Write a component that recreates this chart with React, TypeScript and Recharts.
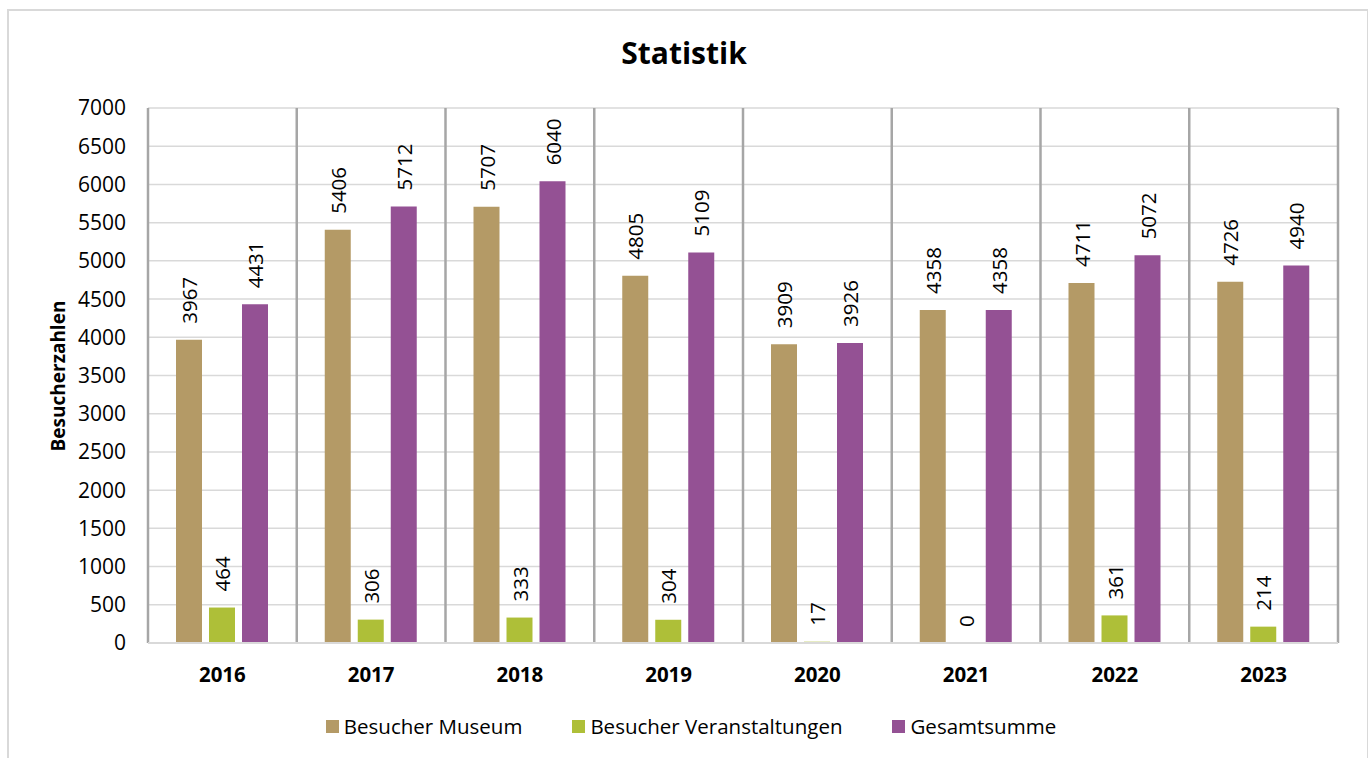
import React from "react";
import {
  BarChart,
  Bar,
  XAxis,
  YAxis,
  CartesianGrid,
  LabelList,
} from "recharts";

const years = ["2016", "2017", "2018", "2019", "2020", "2021", "2022", "2023"];
const museum = [3967, 5406, 5707, 4805, 3909, 4358, 4711, 4726];
const events = [464, 306, 333, 304, 17, 0, 361, 214];
const total = [4431, 5712, 6040, 5109, 3926, 4358, 5072, 4940];
const yTicks = [0, 500, 1000, 1500, 2000, 2500, 3000, 3500, 4000, 4500, 5000, 5500, 6000, 6500, 7000];

const series = [
  { key: "museum", name: "Besucher Museum", color: "#B49A66" },
  { key: "events", name: "Besucher Veranstaltungen", color: "#AEBF38" },
  { key: "total", name: "Gesamtsumme", color: "#945194" },
];

const data = years.map((y, i) => ({
  year: y,
  museum: museum[i],
  events: events[i],
  total: total[i],
}));

const FONT = "'Open Sans', 'Noto Sans', sans-serif";

function VerticalLabel(props: any) {
  const { x, y, width, value } = props;
  return (
    <text
      x={0}
      y={0}
      transform={`translate(${x + width / 2}, ${y - 16}) rotate(-90)`}
      textAnchor="start"
      dominantBaseline="central"
      fontSize={20.5}
      fontFamily={FONT}
      fill="#000"
    >
      {String(value)}
    </text>
  );
}

// category separators: one line at each category boundary
const separatorLines = (props: any) => {
  const { offset } = props;
  const n = years.length;
  const step = offset.width / n;
  return Array.from({ length: n + 1 }, (_, i) => offset.left + i * step);
};

export default function App() {
  return (
    <div style={{ position: "relative", width: 1368, height: 758, background: "#fff", overflow: "hidden" }}>
      <style>{"body{margin:0}"}</style>
      <div
        style={{
          position: "absolute",
          left: 7,
          top: 9,
          width: 1358,
          height: 780,
          border: "2px solid #d9d9d9",
        }}
      />
      <div
        style={{
          position: "absolute",
          left: 0,
          width: 1368,
          top: 32,
          textAlign: "center",
          fontFamily: FONT,
          fontWeight: 700,
          fontSize: 30,
        }}
      >
        Statistik
      </div>
      <div
        style={{
          position: "absolute",
          left: 58,
          top: 376,
          transform: "translate(-50%, -50%) rotate(-90deg)",
          fontFamily: FONT,
          fontWeight: 700,
          fontSize: 19,
          whiteSpace: "nowrap",
        }}
      >
        Besucherzahlen
      </div>
      <div style={{ position: "absolute", left: 0, top: 0 }}>
        <BarChart
          width={1368}
          height={758}
          data={data}
          margin={{ top: 108, right: 30, bottom: 0, left: 0 }}
          barCategoryGap={28}
          barGap={7}
        >
          <CartesianGrid vertical={false} stroke="#d9d9d9" strokeWidth={1.5} />
          <CartesianGrid
            horizontal={false}
            stroke="#a6a6a6"
            strokeWidth={2.5}
            verticalCoordinatesGenerator={separatorLines}
          />
          <XAxis
            dataKey="year"
            axisLine={{ stroke: "#d9d9d9", strokeWidth: 2 }}
            tickLine={false}
            height={115}
            tick={{ fontSize: 20.5, fontWeight: 700, fill: "#000", fontFamily: FONT, dy: 16 }}
            interval={0}
          />
          <YAxis
            width={148}
            domain={[0, 7000]}
            ticks={yTicks}
            axisLine={false}
            tickLine={false}
            tickMargin={16}
            tick={{ fontSize: 21, fill: "#000", fontFamily: FONT }}
            interval={0}
          />
          {series.map((s) => (
            <Bar
              key={s.key}
              dataKey={s.key}
              name={s.name}
              fill={s.color}
              barSize={26}
              minPointSize={(v: number) => (v === 0 ? 0.01 : 0)}
              isAnimationActive={false}
            >
              <LabelList dataKey={s.key} content={<VerticalLabel />} />
            </Bar>
          ))}
        </BarChart>
      </div>
      <div
        style={{
          position: "absolute",
          left: 0,
          top: 712,
          width: 1368,
          display: "flex",
          justifyContent: "center",
          gap: 50,
          fontFamily: FONT,
          fontSize: 20.5,
          color: "#000",
          paddingLeft: 14,
          boxSizing: "border-box",
        }}
      >
        {series.map((s) => (
          <div key={s.key} style={{ display: "flex", alignItems: "center" }}>
            <span
              style={{
                display: "inline-block",
                width: 13,
                height: 13,
                background: s.color,
                marginRight: 5,
              }}
            />
            {s.name}
          </div>
        ))}
      </div>
    </div>
  );
}
